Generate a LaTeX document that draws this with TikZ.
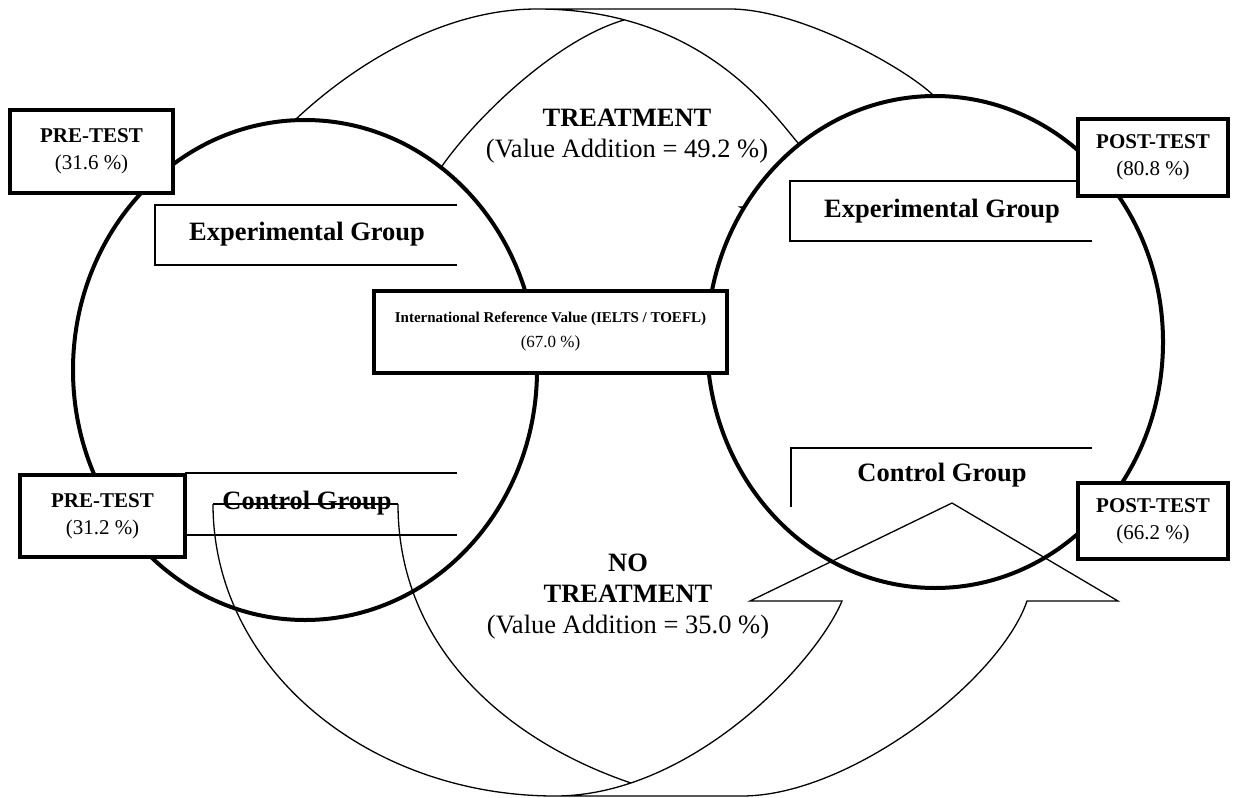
\documentclass[tikz,border=0pt]{standalone}
\usepackage{fontspec}
\setmainfont{Liberation Serif}
\tikzset{
  ring/.style={line width=4pt, fill=white},
  band/.style={line width=1.3pt},
  grouprule/.style={line width=1.6pt},
  testbox/.style={draw, line width=3.5pt, fill=white, align=center, inner sep=0pt, font=\fontsize{21}{27}\selectfont},
  grouplabel/.style={inner sep=0pt, font=\fontsize{26.5}{32}\bfseries\selectfont},
  phaselabel/.style={inner sep=0pt, align=center, font=\fontsize{26.5}{31}\selectfont}
}
\begin{document}
\begin{tikzpicture}[x=1pt,y=1pt,yscale=-1,xscale=1]
    \useasboundingbox (0,0) rectangle (1238,797);
    %Curve Lines: upper band, head under the right ring
    \draw[band] (295,120) .. controls (350,68) and (440,9) .. (537,9) .. controls (700,9) and (770,110) .. (798,143) -- (830,207) -- (740,207) -- (925,310) -- (1110,207) -- (1017,207) -- (933,95) .. controls (905,68) and (800,9) .. (730,9) -- (537,9) ;
    \draw[band] (436,175) .. controls (470,122) and (555,40) .. (624,20) ;
    %Shape: Ellipse
    \draw[ring] (305,370) ellipse [x radius=232pt, y radius=250pt] ;
    %Shape: Ellipse
    \draw[ring] (935,342) ellipse [x radius=228pt, y radius=246pt] ;
    %Group frames
    \draw[grouprule] (457,205) -- (155,205) -- (155,265) -- (457,265) ;
    \draw[grouprule] (185,473) -- (457,473) ;
    \draw[grouprule] (185,535) -- (457,535) ;
    \draw[grouprule] (1092,181) -- (790,181) -- (790,241) -- (1092,241) ;
    \draw[grouprule] (791,507) -- (791,448) -- (1092,448) ;
    % Text Node
    \node[grouplabel] (expL) at (307,234) {Experimental Group};
    % Text Node
    \node[grouplabel] (ctrlL) at (307,503) {Control Group};
    % Text Node
    \node[grouplabel] (expR) at (942,211) {Experimental Group};
    % Text Node
    \node[grouplabel] (ctrlR) at (942,475) {Control Group};
    %Curve Lines: lower band, head pointing up
    \draw[band] (213,504) -- (398,504) ;
    \draw[band] (213,504) .. controls (213,670) and (370,796) .. (555,796) .. controls (690,796) and (815,665) .. (842,601) -- (750,601) -- (952,503) -- (1118,601) -- (1027,601) .. controls (1000,680) and (850,796) .. (742,796) -- (555,796) ;
    \draw[band] (398,504) .. controls (398,650) and (510,742) .. (631,783) ;
    % Text Node
    \node[phaselabel] (treat) at (627,136) {\textbf{TREATMENT}\\(Value Addition = 49.2 \%)};
    % Text Node
    \node[phaselabel] (notreat) at (628,597) {\textbf{NO}\\\textbf{TREATMENT}\\(Value Addition = 35.0 \%)};
    % Test boxes
    \node[testbox, minimum width=163pt, minimum height=83pt] (preE) at (91.5,151.5) {\textbf{PRE-TEST}\\(31.6 \%)};
    \node[testbox, minimum width=165pt, minimum height=82pt] (preC) at (102.5,516) {\textbf{PRE-TEST}\\(31.2 \%)};
    \node[testbox, minimum width=150pt, minimum height=77pt] (postE) at (1153,157.5) {\textbf{POST-TEST}\\(80.8 \%)};
    \node[testbox, minimum width=150pt, minimum height=76pt] (postC) at (1153,521) {\textbf{POST-TEST}\\(66.2 \%)};
    % Text Node
    \node[testbox, minimum width=353pt, minimum height=82pt, font=\fontsize{15}{25}\selectfont] (irv) at (550.5,332) {\textbf{International Reference Value (IELTS / TOEFL)}\\{\fontsize{17}{25}\selectfont(67.0 \%)}};
\end{tikzpicture}
\end{document}
